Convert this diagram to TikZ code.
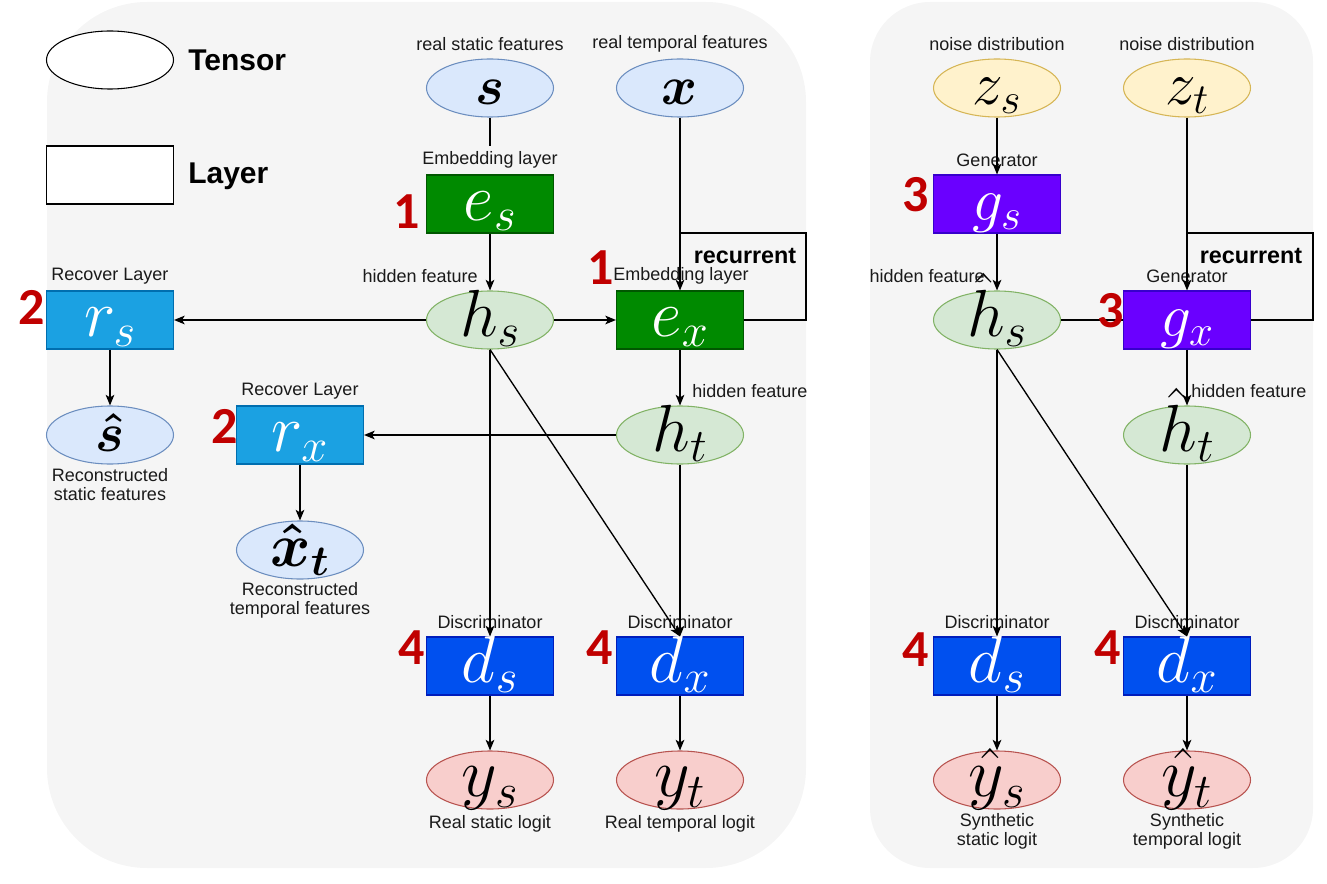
\RequirePackage{fix-cm}
\documentclass[tikz,border=0pt]{standalone}
\usepackage[no-math]{fontspec}
\setmainfont{Liberation Sans}
\newfontfamily\numfont{Carlito}
\usetikzlibrary{shapes.geometric,arrows.meta}
\definecolor{panelc}{HTML}{F5F5F5}
\definecolor{bluF}{HTML}{DAE8FC}\definecolor{bluD}{HTML}{6C8EBF}
\definecolor{grnF}{HTML}{D5E8D4}\definecolor{grnD}{HTML}{82B366}
\definecolor{ylwF}{HTML}{FFF2CC}\definecolor{ylwD}{HTML}{D6B656}
\definecolor{redF}{HTML}{F8CECC}\definecolor{redD}{HTML}{B85450}
\definecolor{embF}{HTML}{008A00}\definecolor{embD}{HTML}{005700}
\definecolor{recF}{HTML}{1BA1E2}\definecolor{recD}{HTML}{006EAF}
\definecolor{disF}{HTML}{0050EF}\definecolor{disD}{HTML}{001DBC}
\definecolor{genF}{HTML}{6A00FF}\definecolor{genD}{HTML}{3700CC}
\definecolor{numred}{HTML}{C00000}
\definecolor{lblc}{HTML}{1A1A1A}
\tikzset{
  tensor/.style={ellipse, minimum width=95.25pt, minimum height=43.5pt, inner sep=0pt, line width=0.8pt, text height=27pt, text depth=2pt, font=\fontsize{50}{50}\selectfont},
  tblue/.style={tensor, fill=bluF, draw=bluD, font=\fontsize{41}{41}\selectfont\boldmath},
  tgreen/.style={tensor, fill=grnF, draw=grnD},
  tyellow/.style={tensor, fill=ylwF, draw=ylwD, font=\fontsize{46}{46}\selectfont},
  tred/.style={tensor, fill=redF, draw=redD, font=\fontsize{52}{52}\selectfont},
  layer/.style={rectangle, minimum width=95.25pt, minimum height=43.5pt, inner sep=0pt, line width=0.8pt, text height=27pt, text depth=2pt, text=white, font=\fontsize{50}{50}\selectfont},
  lemb/.style={layer, fill=embF, draw=embD},
  lrec/.style={layer, fill=recF, draw=recD},
  ldis/.style={layer, fill=disF, draw=disD},
  lgen/.style={layer, fill=genF, draw=genD, font=\fontsize{46}{46}\selectfont},
  lbl/.style={font=\fontsize{13.5}{14.3}\selectfont, text=lblc, inner sep=0pt, align=center},
  bigl/.style={font=\bfseries\fontsize{22.5}{24}\selectfont, text=black, inner sep=0pt, anchor=west},
  recl/.style={font=\bfseries\fontsize{17.5}{20}\selectfont, text=black, inner sep=0pt},
  numl/.style={font=\numfont\bfseries\fontsize{39}{39}\selectfont, text=numred, inner sep=0pt},
  conn/.style={line width=1pt, -{Stealth[length=8pt,width=6.5pt,inset=2pt]}},
  wire/.style={line width=1pt},
}
\begin{document}
\begin{tikzpicture}[x=0.75pt,y=-0.75pt]
\useasboundingbox (0,0) rectangle (1327,884);
% panels
\fill[panelc, rounded corners=75pt] (47,2) rectangle (806,868);
\fill[panelc, rounded corners=45pt] (870,2) rectangle (1313,868);
% legend
\node[ellipse, draw=black, fill=white, line width=0.8pt, minimum width=95.25pt, minimum height=43.5pt, inner sep=0pt] (legT) at (110,60) {};
\node[bigl] (legTt) at (188,60) {Tensor};
\node[rectangle, draw=black, fill=white, line width=0.8pt, minimum width=95.25pt, minimum height=43.5pt, inner sep=0pt] (legL) at (110,175) {};
\node[bigl] (legLt) at (188,176) {Layer};

% ---------- left panel ----------
\node[tblue] (s) at (490,88) {$s$};
\node[tblue] (x) at (680,88) {$x$};
\node[lbl] (sl) at (490,44) {real static features};
\node[lbl] (xl) at (680,44) {real temporal features};
\node[lemb] (es) at (490,204) {$e_s$};
\node[lbl] (esl) at (490,160) {Embedding layer};
\node[tgreen] (hs) at (490,320) {$h_s$};
\node[lbl, anchor=east] (hsl) at (478,276) {hidden feature};
\node[lemb] (ex) at (680,320) {$e_x$};
\node[lbl] (exl) at (681,276) {Embedding layer};
\node[lrec] (rs) at (110,320) {$r_s$};
\node[lbl] (rsl) at (110,276) {Recover Layer};
\node[tblue] (sh) at (110,435) {$\hat{s}$};
\node[lbl] (shl) at (110,485) {Reconstructed\\static features};
\node[tgreen] (ht) at (680,435) {$h_t$};
\node[lbl, anchor=west] (htl) at (692,391) {hidden feature};
\node[lrec] (rx) at (300,435) {$r_x$};
\node[lbl] (rxl) at (300,391) {Recover Layer};
\node[tblue, font=\fontsize{46}{46}\selectfont\boldmath] (xh) at (300,550) {$\hat{x}_t$};
\node[lbl] (xhl) at (300,600) {Reconstructed\\temporal features};
\node[ldis] (ds) at (490,666) {$d_s$};
\node[lbl] (dsl) at (490,622) {Discriminator};
\node[ldis] (dx) at (680,666) {$d_x$};
\node[lbl] (dxl) at (680,622) {Discriminator};
\node[tred] (ys) at (490,780) {$y_s$};
\node[lbl] (ysl) at (490,824) {Real static logit};
\node[tred] (yt) at (680,780) {$y_t$};
\node[lbl] (ytl) at (680,824) {Real temporal logit};

\coordinate (sEnd) at (490,146);
\coordinate (recA) at (806,233);
\coordinate (recB) at (680,233);
\draw[wire] (s.south) -- (sEnd);
\draw[conn] (es.south) -- (hs.north);
\draw[conn] (x.south) -- (ex.north);
\draw[wire] (ex.east) -| (recA) -- (recB);
\node[recl] (recl1) at (745,256) {recurrent};
\draw[conn] (hs.east) -- (ex.west);
\draw[conn] (hs.west) -- (rs.east);
\draw[conn] (rs.south) -- (sh.north);
\draw[conn] (ex.south) -- (ht.north);
\draw[conn] (ht.west) -- (rx.east);
\draw[conn] (rx.south) -- (xh.north);
\draw[conn] (hs.south) -- (ds.north);
\draw[conn] (hs.south) -- (dx.north);
\draw[conn] (ht.south) -- (dx.north);
\draw[conn] (ds.south) -- (ys.north);
\draw[conn] (dx.south) -- (yt.north);

\node[numl] (n1a) at (407,212) {1};
\node[numl] (n1b) at (601,268) {1};
\node[numl] (n2a) at (32,307) {2};
\node[numl] (n2b) at (225,426) {2};
\node[numl] (n4a) at (412,648) {4};
\node[numl] (n4b) at (600,648) {4};

% ---------- right panel ----------
\node[tyellow] (zs) at (997,88) {$z_s$};
\node[tyellow] (zt) at (1187,88) {$z_t$};
\node[lbl] (zsl) at (997,44) {noise distribution};
\node[lbl] (ztl) at (1187,44) {noise distribution};
\node[lgen] (gs) at (997,204) {$g_s$};
\node[lbl] (gsl) at (997,160) {Generator};
\node[tgreen] (hhs) at (997,320) {$\hat{h}_s$};
\node[lbl, anchor=east] (hhsl) at (985,276) {hidden feature};
\node[lgen] (gx) at (1187,320) {$g_x$};
\node[lbl] (gxl) at (1187,276) {Generator};
\node[tgreen] (hht) at (1187,435) {$\hat{h}_t$};
\node[lbl, anchor=west] (hhtl) at (1191,391) {hidden feature};
\node[ldis] (ds2) at (997,666) {$d_s$};
\node[lbl] (ds2l) at (997,622) {Discriminator};
\node[ldis] (dx2) at (1187,666) {$d_x$};
\node[lbl] (dx2l) at (1187,622) {Discriminator};
\node[tred] (yhs) at (997,780) {$\hat{y}_s$};
\node[lbl] (yhsl) at (997,831) {Synthetic\\static logit};
\node[tred] (yht) at (1187,780) {$\hat{y}_t$};
\node[lbl] (yhtl) at (1187,831) {Synthetic\\temporal logit};

\coordinate (recC) at (1313,233);
\coordinate (recD) at (1187,233);
\draw[conn] (zs.south) -- (gs.north);
\draw[conn] (gs.south) -- (hhs.north);
\draw[conn] (zt.south) -- (gx.north);
\draw[wire] (gx.east) -| (recC) -- (recD);
\node[recl] (recl2) at (1251,256) {recurrent};
\draw[wire] (hhs.east) -- (gx.west);
\draw[conn] (gx.south) -- (hht.north);
\draw[conn] (hhs.south) -- (ds2.north);
\draw[conn] (hhs.south) -- (dx2.north);
\draw[conn] (hht.south) -- (dx2.north);
\draw[conn] (ds2.south) -- (yhs.north);
\draw[conn] (dx2.south) -- (yht.north);

\node[numl] (n3a) at (916,195) {3};
\node[numl] (n3b) at (1111,311) {3};
\node[numl] (n4c) at (916,650) {4};
\node[numl] (n4d) at (1108,648) {4};
\end{tikzpicture}
\end{document}
